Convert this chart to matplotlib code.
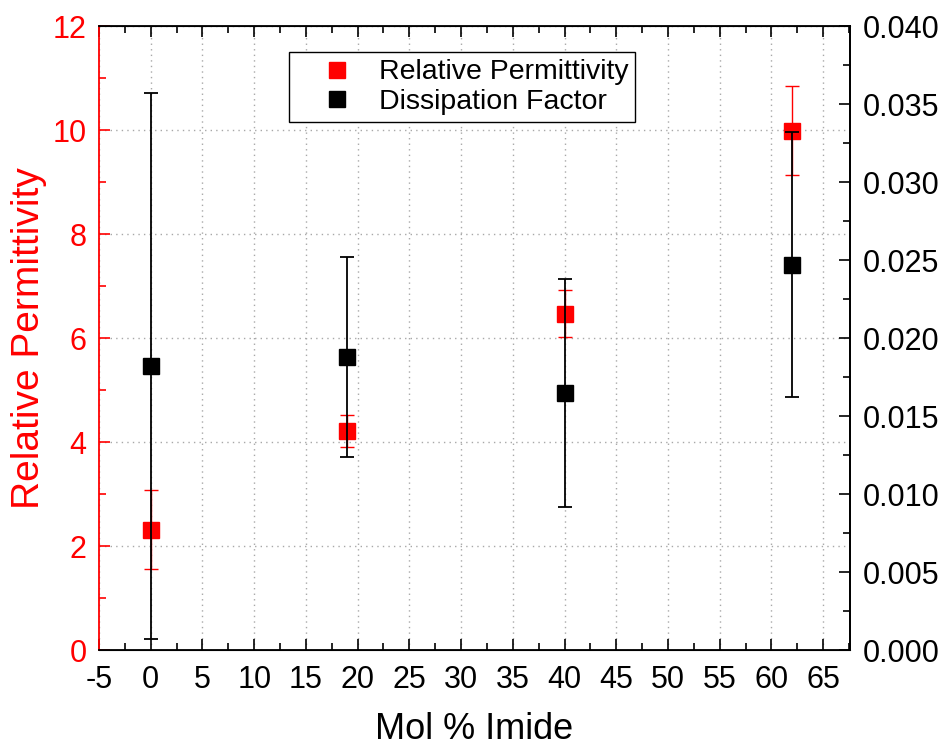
import matplotlib.pyplot as plt
from matplotlib.lines import Line2D
from matplotlib.ticker import MultipleLocator, FormatStrFormatter

plt.rcParams['font.family'] = ['Liberation Sans', 'DejaVu Sans']
plt.rcParams['axes.unicode_minus'] = False

# data
mol_imide = [0, 19, 40, 62]
permittivity = [2.31, 4.22, 6.47, 9.99]
permittivity_err = [0.76, 0.31, 0.45, 0.85]
dissipation = [0.0182, 0.0188, 0.0165, 0.0247]
dissipation_err = [0.0175, 0.0064, 0.0073, 0.0085]

RED = '#ff0000'

fig = plt.figure(figsize=(9.46, 7.48), dpi=100)
ax = fig.add_axes([0.1047, 0.131, 0.7938, 0.834])
ax2 = ax.twinx()

# relative permittivity on left axis
ax.errorbar(mol_imide, permittivity, yerr=permittivity_err, fmt='s', color=RED,
            markersize=11.5, ecolor=RED, elinewidth=1.0, capsize=4.7, capthick=1.0, zorder=3)
ax.set_xlim(-5, 67.6)
ax.set_ylim(0, 12)
ax.xaxis.set_major_locator(MultipleLocator(5))
ax.xaxis.set_minor_locator(MultipleLocator(2.5))
ax.yaxis.set_major_locator(MultipleLocator(2))
ax.yaxis.set_minor_locator(MultipleLocator(1))
ax.grid(True, which='major', linestyle=(0, (1, 3)), color='#a8a8a8', linewidth=1.0)
ax.set_axisbelow(True)

ax.tick_params(axis='x', which='both', direction='in', top=True, bottom=True,
               labelsize=22, pad=11, colors='black', width=1.2)
ax.tick_params(axis='y', which='both', direction='in', left=True, right=False,
               labelsize=22, pad=9, colors=RED, width=1.2)
ax.tick_params(which='major', length=8)
ax.tick_params(which='minor', length=5)
ax.set_xlabel('Mol % Imide', fontsize=26, labelpad=12)
ax.set_ylabel('Relative Permittivity', fontsize=28, color=RED, labelpad=4)

for side in ['top', 'bottom', 'right']:
    ax.spines[side].set_linewidth(1.3)
ax.spines['left'].set_color(RED)
ax.spines['left'].set_linewidth(1.3)

# dissipation factor on right axis
ax2.errorbar(mol_imide, dissipation, yerr=dissipation_err, fmt='s', color='black',
             markersize=11.5, ecolor='black', elinewidth=1.3, capsize=4.7, capthick=1.3, zorder=3)
ax2.set_ylim(0, 0.040)
ax2.yaxis.set_major_locator(MultipleLocator(0.005))
ax2.yaxis.set_minor_locator(MultipleLocator(0.0025))
ax2.yaxis.set_major_formatter(FormatStrFormatter('%.3f'))
ax2.tick_params(axis='y', which='both', direction='in', labelsize=22, pad=9, width=1.2)
ax2.tick_params(which='major', length=8)
ax2.tick_params(which='minor', length=5)
ax2.spines['left'].set_visible(False)
ax2.spines['right'].set_linewidth(1.3)

handles = [
    Line2D([], [], marker='s', linestyle='none', color=RED, markersize=11),
    Line2D([], [], marker='s', linestyle='none', color='black', markersize=11),
]
leg = ax2.legend(handles, ['Relative Permittivity', 'Dissipation Factor'],
                 loc='upper left', bbox_to_anchor=(0.253, 0.958), borderaxespad=0,
                 fontsize=20.5, frameon=True, fancybox=False, edgecolor='black',
                 framealpha=1, handletextpad=0.0, borderpad=0.25, labelspacing=0.12,
                 handlelength=2.9)
leg.get_frame().set_linewidth(1.0)

fig.savefig('out.png', dpi=100)
